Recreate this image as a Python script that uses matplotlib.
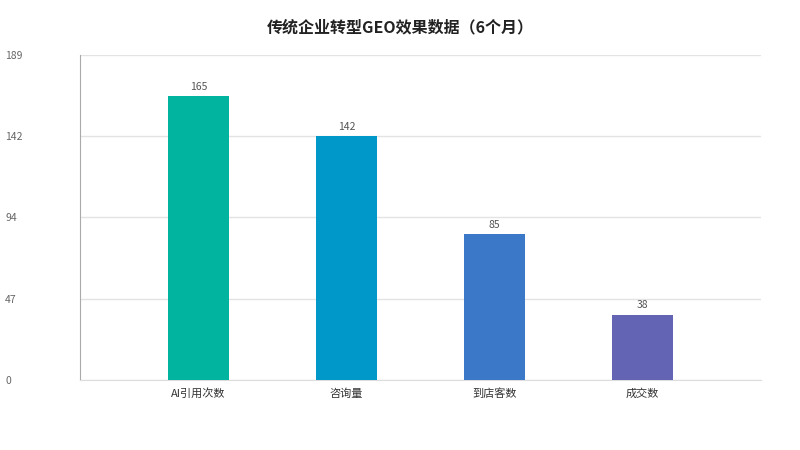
import matplotlib
matplotlib.use("Agg")
import matplotlib.pyplot as plt
import numpy as np

plt.rcParams['font.family'] = ['Noto Sans CJK SC', 'DejaVu Sans']

categories = ["AI引用次数", "咨询量", "到店客数", "成交数"]
values = [165, 142, 85, 38]
colors = ["#00B4A0", "#0097C9", "#3C78C8", "#6464B4"]
y_max = 189
title = "传统企业转型GEO效果数据（6个月）"

fig = plt.figure(figsize=(8, 4.5), dpi=100)
ax = fig.add_axes([0.1, 0.1556, 0.851, 0.7222])

x = np.arange(len(categories))
bars = ax.bar(x, values, width=0.41, color=colors, zorder=3)
for xi, v in zip(x, values):
    ax.text(xi, v + 2.5, str(v), ha="center", va="bottom", fontsize=7.5, color="#555555")

ax.set_xlim(-0.8, len(categories) - 0.2)
ax.set_ylim(0, y_max)
ticks = np.linspace(0, y_max, 5)
ax.set_yticks(ticks)
ax.set_yticklabels([str(int(round(t))) for t in ticks], fontsize=7.5, color="#666666", ha="left")
ax.tick_params(axis="y", length=0, pad=54)
ax.set_xticks(x)
ax.set_xticklabels(categories, fontsize=8, color="#333333")
ax.tick_params(axis="x", length=0, pad=6)

ax.grid(axis="y", color="#e3e3e3", linewidth=1, zorder=0)
for s in ["top", "right"]:
    ax.spines[s].set_visible(False)
ax.spines["left"].set_color("#aaaaaa")
ax.spines["bottom"].set_color("#dddddd")

fig.text(0.5, 0.94, title, ha="center", va="center", fontsize=11.5, fontweight="bold", color="#222222")

fig.savefig("out.png", dpi=100)
